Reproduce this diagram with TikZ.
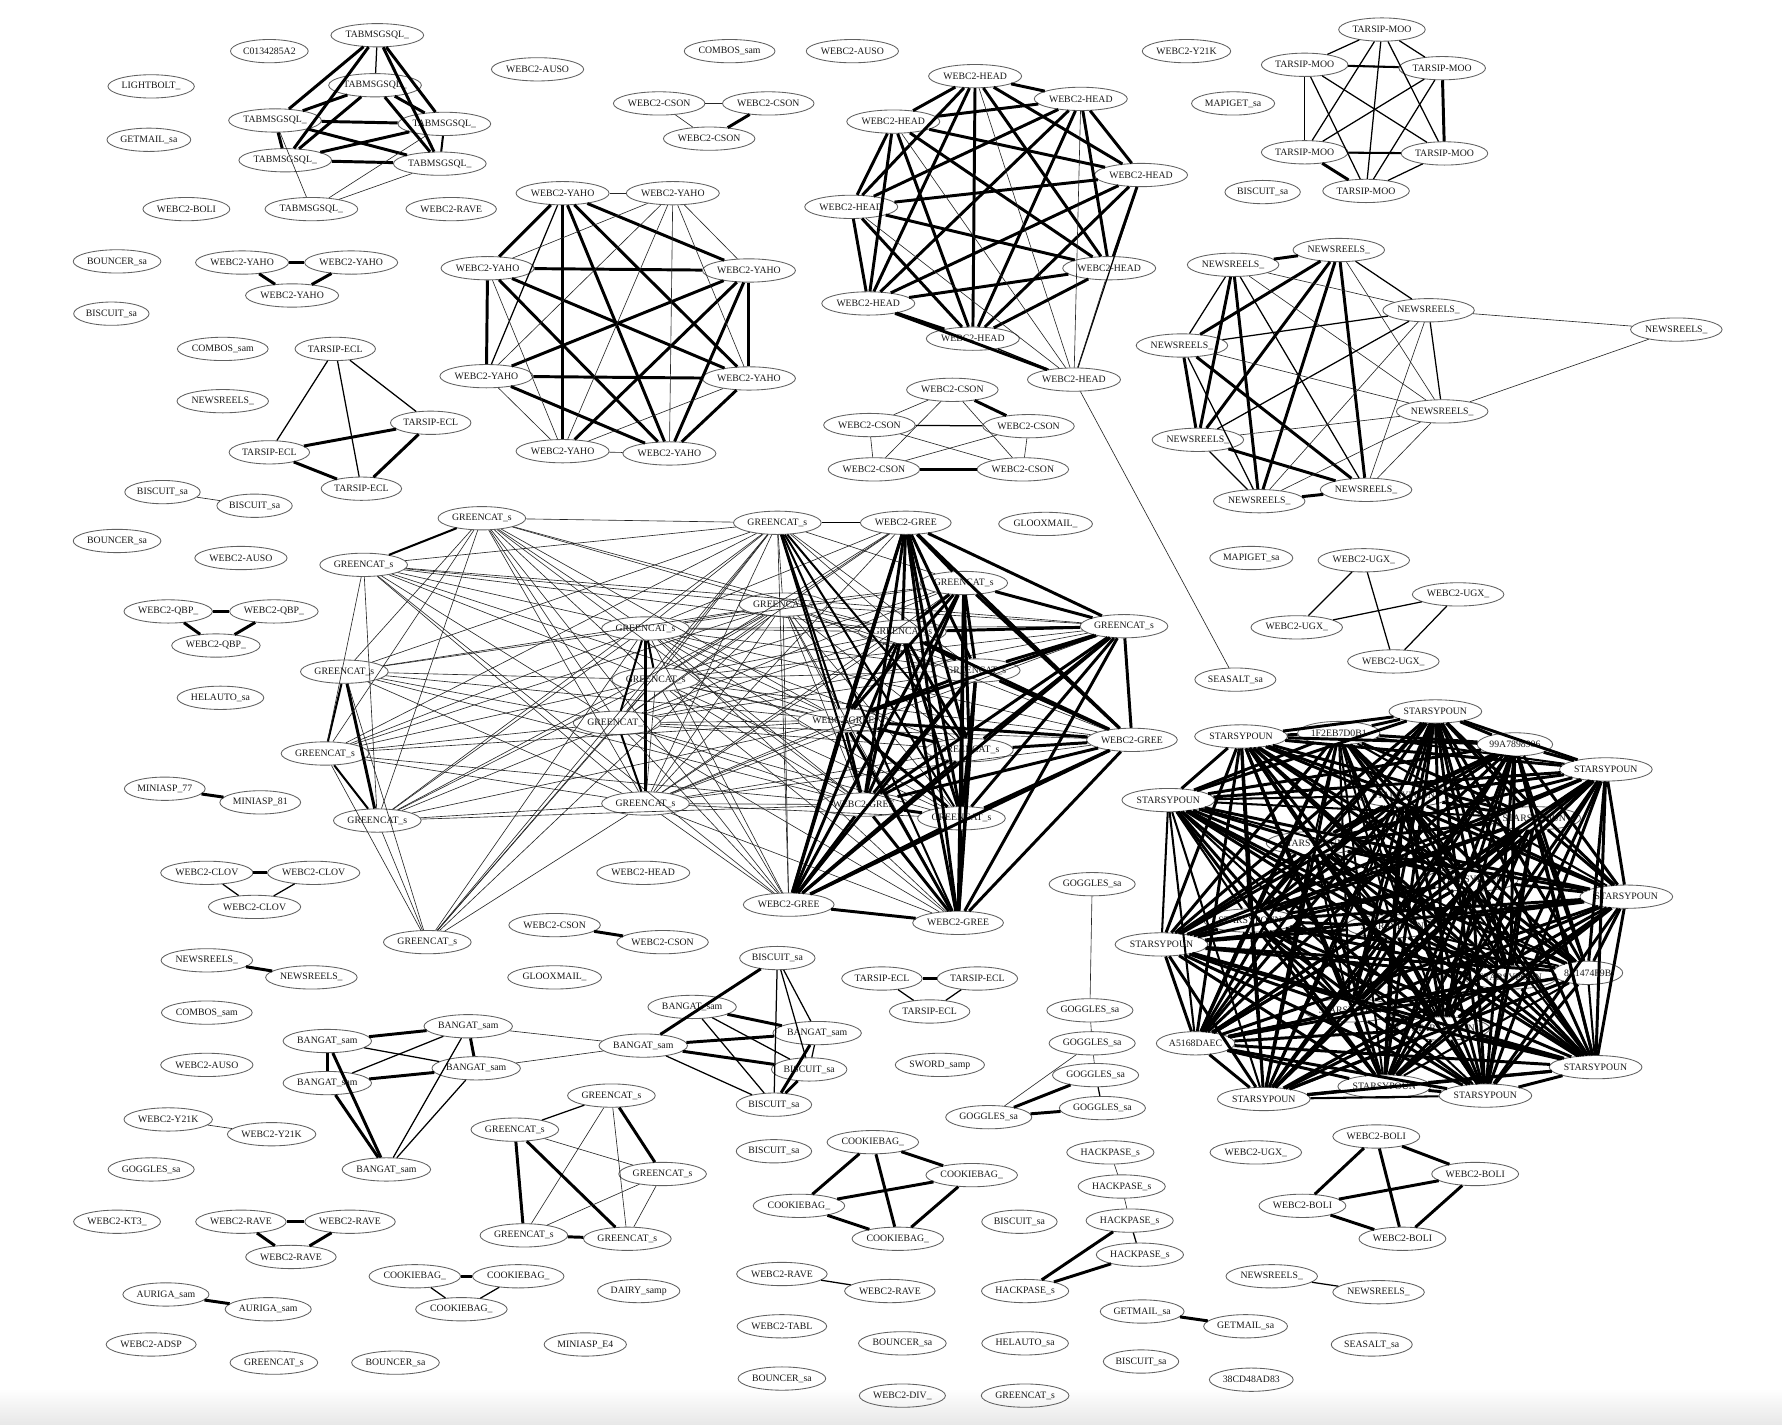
\documentclass[tikz,border=0pt]{standalone}
\usepackage{fontspec}
\setmainfont{Liberation Serif}
\usetikzlibrary{shapes.geometric}
\newcommand\completegraph[2]{%
  \foreach \ga [count=\gia] in {#2}{%
    \foreach \gb [count=\gib] in {#2}{%
      \ifnum\gia<\gib \draw[#1] (\ga) -- (\gb);\fi
    }%
  }%
}
\begin{document}
\begin{tikzpicture}[x=1pt,y=-1pt,
 nd/.style={ellipse,draw=black!62,line width=0.75pt,minimum height=20.5pt,inner xsep=1pt,inner ysep=0pt,font=\fontsize{8.6}{9}\selectfont,text=black!90},
 e0/.style={line width=0.55pt,draw=black!85},
 e1/.style={line width=1.1pt},
 e2/.style={line width=1.8pt},
 e3/.style={line width=2.6pt}]
\useasboundingbox (0,0) rectangle (1568,1253);
\fill[white] (0,0) rectangle (1568,1253);
\shade[top color=white,bottom color=black!9] (0,1222) rectangle (1568,1253);

% ---------- isolated nodes ----------
\node[nd] (i1) at (237,45) {C0134285A2};
\node[nd] (i2) at (642,45) {COMBOS\_sam};
\node[nd] (i3) at (750,45) {WEBC2-AUSO};
\node[nd] (i4) at (1044,45) {WEBC2-Y21K};
\node[nd] (i5) at (473,61) {WEBC2-AUSO};
\node[nd] (i6) at (133,76) {LIGHTBOLT\_};
\node[nd] (i7) at (1085,91) {MAPIGET\_sa};
\node[nd] (i8) at (131,123) {GETMAIL\_sa};
\node[nd] (i9) at (164,184) {WEBC2-BOLI};
\node[nd] (i10) at (397,184) {WEBC2-RAVE};
\node[nd] (i11) at (1111,169) {BISCUIT\_sa};
\node[nd] (i12) at (103,230) {BOUNCER\_sa};
\node[nd] (i13) at (98,276) {BISCUIT\_sa};
\node[nd] (i14) at (196,307) {COMBOS\_sam};
\node[nd] (i15) at (196,353) {NEWSREELS\_};
\node[nd] (i16) at (103,476) {BOUNCER\_sa};
\node[nd] (i17) at (212,491) {WEBC2-AUSO};
\node[nd] (i18) at (920,461) {GLOOXMAIL\_};
\node[nd] (i19) at (1101,491) {MAPIGET\_sa};
\node[nd] (i20) at (194,614) {HELAUTO\_sa};
\node[nd] (i21) at (566,768) {WEBC2-HEAD};
\node[nd] (i22) at (488,860) {GLOOXMAIL\_};
\node[nd] (i23) at (182,891) {COMBOS\_sam};
\node[nd] (i24) at (827,937) {SWORD\_samp};
\node[nd] (i25) at (182,937) {WEBC2-AUSO};
\node[nd] (i26) at (133,1029) {GOGGLES\_sa};
\node[nd] (i27) at (681,1013) {BISCUIT\_sa};
\node[nd] (i28) at (1105,1014) {WEBC2-UGX\_};
\node[nd] (i29) at (103,1075) {WEBC2-KT3\_};
\node[nd] (i30) at (897,1075) {BISCUIT\_sa};
\node[nd] (i31) at (562,1136) {DAIRY\_samp};
\node[nd] (i32) at (133,1183) {WEBC2-ADSP};
\node[nd] (i33) at (241,1199) {GREENCAT\_s};
\node[nd] (i34) at (348,1199) {BOUNCER\_sa};
\node[nd] (i35) at (515,1183) {MINIASP\_E4};
\node[nd] (i36) at (688,1167) {WEBC2-TABL};
\node[nd] (i37) at (794,1182) {BOUNCER\_sa};
\node[nd] (i38) at (902,1182) {HELAUTO\_sa};
\node[nd] (i39) at (1004,1198) {BISCUIT\_sa};
\node[nd] (i40) at (1101,1214) {38CD48AD83};
\node[nd] (i41) at (1207,1183) {SEASALT\_sa};
\node[nd] (i42) at (688,1213) {BOUNCER\_sa};
\node[nd] (i43) at (794,1228) {WEBC2-DIV\_};
\node[nd] (i44) at (902,1228) {GREENCAT\_s};
\node[nd] (i45) at (1087,598) {SEASALT\_sa};

% ---------- small groups ----------
\node[nd] (cs1) at (580,91) {WEBC2-CSON};
\node[nd] (cs2) at (676,91) {WEBC2-CSON};
\node[nd] (cs3) at (624,122) {WEBC2-CSON};
\node[nd] (ya1) at (213,231) {WEBC2-YAHO};
\node[nd] (ya2) at (309,231) {WEBC2-YAHO};
\node[nd] (ya3) at (257,260) {WEBC2-YAHO};
\node[nd] (bi1) at (143,433) {BISCUIT\_sa};
\node[nd] (bi2) at (224,445) {BISCUIT\_sa};
\node[nd] (qb1) at (148,538) {WEBC2-QBP\_};
\node[nd] (qb2) at (241,538) {WEBC2-QBP\_};
\node[nd] (qb3) at (190,568) {WEBC2-QBP\_};
\node[nd] (mi1) at (145,694) {MINIASP\_77};
\node[nd] (mi2) at (229,706) {MINIASP\_81};
\node[nd] (cl1) at (182,768) {WEBC2-CLOV};
\node[nd] (cl2) at (276,768) {WEBC2-CLOV};
\node[nd] (cl3) at (224,798) {WEBC2-CLOV};
\node[nd] (ns1) at (182,845) {NEWSREELS\_};
\node[nd] (ns2) at (274,860) {NEWSREELS\_};
\node[nd] (cn1) at (488,814) {WEBC2-CSON};
\node[nd] (cn2) at (583,829) {WEBC2-CSON};
\node[nd] (te1) at (776,861) {TARSIP-ECL};
\node[nd] (te2) at (860,861) {TARSIP-ECL};
\node[nd] (te3) at (818,890) {TARSIP-ECL};
\node[nd] (yk1) at (148,985) {WEBC2-Y21K};
\node[nd] (yk2) at (239,998) {WEBC2-Y21K};
\node[nd] (rv1) at (212,1075) {WEBC2-RAVE};
\node[nd] (rv2) at (308,1075) {WEBC2-RAVE};
\node[nd] (rv3) at (256,1106) {WEBC2-RAVE};
\node[nd] (au1) at (146,1139) {AURIGA\_sam};
\node[nd] (au2) at (236,1152) {AURIGA\_sam};
\node[nd] (cb1) at (365,1123) {COOKIEBAG\_};
\node[nd] (cb2) at (456,1123) {COOKIEBAG\_};
\node[nd] (cb3) at (406,1152) {COOKIEBAG\_};
\node[nd] (rw1) at (688,1121) {WEBC2-RAVE};
\node[nd] (rw2) at (783,1136) {WEBC2-RAVE};
\node[nd] (nw1) at (1119,1123) {NEWSREELS\_};
\node[nd] (nw2) at (1213,1137) {NEWSREELS\_};
\node[nd] (gm1) at (1005,1154) {GETMAIL\_sa};
\node[nd] (gm2) at (1096,1167) {GETMAIL\_sa};

\draw[e0] (cs1) -- (cs2); \draw[e3] (cs2) -- (cs3); \draw[e0] (cs1) -- (cs3);
\draw[e3] (ya1) -- (ya2); \draw[e3] (ya1) -- (ya3); \draw[e3] (ya2) -- (ya3);
\draw[e0] (bi1) -- (bi2);
\draw[e3] (qb1) -- (qb2); \draw[e3] (qb1) -- (qb3); \draw[e3] (qb2) -- (qb3);
\draw[e3] (mi1) -- (mi2);
\draw[e3] (cl1) -- (cl2); \draw[e1] (cl1) -- (cl3); \draw[e1] (cl2) -- (cl3);
\draw[e3] (ns1) -- (ns2);
\draw[e3] (cn1) -- (cn2);
\draw[e3] (te1) -- (te2); \draw[e1] (te1) -- (te3); \draw[e1] (te2) -- (te3);
\draw[e0] (yk1) -- (yk2);
\draw[e3] (rv1) -- (rv2); \draw[e3] (rv1) -- (rv3); \draw[e3] (rv2) -- (rv3);
\draw[e3] (au1) -- (au2);
\draw[e3] (cb1) -- (cb2); \draw[e1] (cb1) -- (cb3); \draw[e1] (cb2) -- (cb3);
\draw[e1] (rw1) -- (rw2);
\draw[e1] (nw1) -- (nw2);
\draw[e3] (gm1) -- (gm2);

% ---------- GOGGLES chain ----------
\node[nd] (go1) at (961,778) {GOGGLES\_sa};
\node[nd] (go2) at (959,889) {GOGGLES\_sa};
\node[nd] (go3) at (961,918) {GOGGLES\_sa};
\node[nd] (go4) at (964,946) {GOGGLES\_sa};
\node[nd] (go5) at (970,975) {GOGGLES\_sa};
\node[nd] (go6) at (870,983) {GOGGLES\_sa};
\draw[e0] (go1) -- (go2); \draw[e0] (go2) -- (go3); \draw[e0] (go3) -- (go4);
\draw[e0] (go3) -- (go6); \draw[e3] (go4) -- (go6); \draw[e1] (go4) -- (go5);
\draw[e3] (go6) -- (go5);

% ---------- HACKPASE ----------
\node[nd] (hp1) at (977,1014) {HACKPASE\_s};
\node[nd] (hp2) at (987,1044) {HACKPASE\_s};
\node[nd] (hp3) at (994,1074) {HACKPASE\_s};
\node[nd] (hp4) at (1003,1104) {HACKPASE\_s};
\node[nd] (hp5) at (902,1136) {HACKPASE\_s};
\draw[e0] (hp1) -- (hp2); \draw[e0] (hp2) -- (hp3); \draw[e1] (hp3) -- (hp4);
\draw[e3] (hp3) -- (hp5); \draw[e3] (hp4) -- (hp5);

% ---------- COOKIEBAG 4 ----------
\node[nd] (k1) at (768,1005) {COOKIEBAG\_};
\node[nd] (k2) at (855,1034) {COOKIEBAG\_};
\node[nd] (k3) at (703,1061) {COOKIEBAG\_};
\node[nd] (k4) at (790,1090) {COOKIEBAG\_};
\completegraph{e3}{k1,k2,k3,k4}

% ---------- WEBC2-BOLI 4 ----------
\node[nd] (b1) at (1211,1000) {WEBC2-BOLI};
\node[nd] (b2) at (1298,1033) {WEBC2-BOLI};
\node[nd] (b3) at (1146,1061) {WEBC2-BOLI};
\node[nd] (b4) at (1234,1090) {WEBC2-BOLI};
\completegraph{e3}{b1,b2,b3,b4}

% ---------- WEBC2-UGX 4 ----------
\node[nd] (u1) at (1200,493) {WEBC2-UGX\_};
\node[nd] (u2) at (1283,523) {WEBC2-UGX\_};
\node[nd] (u3) at (1141,552) {WEBC2-UGX\_};
\node[nd] (u4) at (1226,582) {WEBC2-UGX\_};
\draw[e1] (u1) -- (u3); \draw[e1] (u1) -- (u4); \draw[e1] (u2) -- (u3); \draw[e1] (u2) -- (u4);

% ---------- GREENCAT 5 ----------
\node[nd] (p1) at (538,964) {GREENCAT\_s};
\node[nd] (p2) at (453,994) {GREENCAT\_s};
\node[nd] (p3) at (583,1033) {GREENCAT\_s};
\node[nd] (p4) at (461,1087) {GREENCAT\_s};
\node[nd] (p5) at (552,1090) {GREENCAT\_s};
\draw[e1] (p1) -- (p2); \draw[e3] (p1) -- (p3); \draw[e0] (p1) -- (p4); \draw[e0] (p1) -- (p5);
\draw[e0] (p2) -- (p3); \draw[e3] (p2) -- (p4); \draw[e3] (p2) -- (p5);
\draw[e0] (p3) -- (p4); \draw[e0] (p3) -- (p5); \draw[e3] (p4) -- (p5);

% ---------- BANGAT ----------
\node[nd] (q1) at (288,916) {BANGAT\_sam};
\node[nd] (q2) at (412,903) {BANGAT\_sam};
\node[nd] (q3) at (419,940) {BANGAT\_sam};
\node[nd] (q4) at (288,953) {BANGAT\_sam};
\node[nd] (q5) at (340,1029) {BANGAT\_sam};
\node[nd] (r1) at (566,920) {BANGAT\_sam};
\node[nd] (r2) at (609,886) {BANGAT\_sam};
\node[nd] (r3) at (719,909) {BANGAT\_sam};
\node[nd] (r4) at (684,843) {BISCUIT\_sa};
\node[nd] (r5) at (712,941) {BISCUIT\_sa};
\node[nd] (r6) at (681,972) {BISCUIT\_sa};
\draw[e3] (q1) -- (q2); \draw[e1] (q1) -- (q3); \draw[e3] (q1) -- (q4); \draw[e3] (q1) -- (q5);
\draw[e1] (q2) -- (q4); \draw[e3] (q2) -- (q3); \draw[e1] (q2) -- (q5);
\draw[e3] (q3) -- (q4); \draw[e1] (q3) -- (q5); \draw[e3] (q4) -- (q5);
\draw[e0] (q2) -- (r1); \draw[e0] (q3) -- (r1);
\draw[e3] (r4) -- (r1); \draw[e1] (r4) -- (r6); \draw[e1] (r4) -- (r5); \draw[e1] (r4) -- (r3);
\draw[e3] (r2) -- (r3); \draw[e1] (r2) -- (r5); \draw[e1] (r2) -- (r6);
\draw[e3] (r1) -- (r3); \draw[e3] (r1) -- (r5); \draw[e1] (r1) -- (r6);
\draw[e3] (r3) -- (r6); \draw[e3] (r5) -- (r6); \draw[e1] (r3) -- (r5);

% ---------- TABMSGSQL ----------
\node[nd] (a1) at (332,31) {TABMSGSQL\_};
\node[nd] (a2) at (330,75) {TABMSGSQL\_};
\node[nd] (a3) at (242,106) {TABMSGSQL\_};
\node[nd] (a4) at (391,109) {TABMSGSQL\_};
\node[nd] (a5) at (251,141) {TABMSGSQL\_};
\node[nd] (a6) at (387,144) {TABMSGSQL\_};
\node[nd] (a7) at (274,184) {TABMSGSQL\_};
\draw[e3] (a1) -- (a3); \draw[e3] (a1) -- (a5); \draw[e1] (a1) -- (a2); \draw[e3] (a1) -- (a4);
\draw[e3] (a1) -- (a6); \draw[e3] (a2) -- (a3); \draw[e3] (a2) -- (a5); \draw[e3] (a2) -- (a6);
\draw[e3] (a2) -- (a4); \draw[e3] (a3) -- (a4); \draw[e3] (a3) -- (a6); \draw[e3] (a3) -- (a5);
\draw[e0] (a3) -- (a7); \draw[e3] (a5) -- (a4); \draw[e3] (a5) -- (a6); \draw[e2] (a4) -- (a6);
\draw[e0] (a4) -- (a7); \draw[e0] (a6) -- (a7);

% ---------- TARSIP-ECL 4 ----------
\node[nd] (t1) at (295,307) {TARSIP-ECL};
\node[nd] (t2) at (379,372) {TARSIP-ECL};
\node[nd] (t3) at (237,398) {TARSIP-ECL};
\node[nd] (t4) at (318,430) {TARSIP-ECL};
\draw[e1] (t1) -- (t3); \draw[e1] (t1) -- (t4); \draw[e1] (t1) -- (t2);
\draw[e3] (t2) -- (t3); \draw[e3] (t3) -- (t4); \draw[e3] (t2) -- (t4);

% ---------- TARSIP-MOO ----------
\node[nd] (m1) at (1216,26) {TARSIP-MOO};
\node[nd] (m2) at (1148,57) {TARSIP-MOO};
\node[nd] (m3) at (1269,60) {TARSIP-MOO};
\node[nd] (m4) at (1148,134) {TARSIP-MOO};
\node[nd] (m5) at (1271,135) {TARSIP-MOO};
\node[nd] (m6) at (1202,168) {TARSIP-MOO};
\completegraph{e1}{m1,m2,m3,m4,m5,m6}
\draw[e3] (m3) -- (m5); \draw[e3] (m4) -- (m6); \draw[e2] (m2) -- (m3); \draw[e2] (m4) -- (m5);

% ---------- WEBC2-HEAD ----------
\node[nd] (h1) at (858,67) {WEBC2-HEAD};
\node[nd] (h2) at (951,87) {WEBC2-HEAD};
\node[nd] (h3) at (786,107) {WEBC2-HEAD};
\node[nd] (h4) at (1004,154) {WEBC2-HEAD};
\node[nd] (h5) at (749,182) {WEBC2-HEAD};
\node[nd] (h6) at (976,236) {WEBC2-HEAD};
\node[nd] (h7) at (764,267) {WEBC2-HEAD};
\node[nd] (h8) at (856,298) {WEBC2-HEAD};
\node[nd] (h9) at (945,334) {WEBC2-HEAD};
\completegraph{e3}{h1,h2,h3,h4,h5,h6,h7,h8}
\draw[e0] (h9) -- (h1); \draw[e0] (h9) -- (h2); \draw[e0] (h9) -- (h3); \draw[e1] (h9) -- (h4);
\draw[e0] (h9) -- (h5); \draw[e0] (h9) -- (h6); \draw[e3] (h9) -- (h7); \draw[e1] (h9) -- (h8);
\draw[e0] (h9) -- (i45);

% ---------- WEBC2-CSON 5 ----------
\node[nd] (c1) at (838,343) {WEBC2-CSON};
\node[nd] (c2) at (765,374) {WEBC2-CSON};
\node[nd] (c3) at (905,375) {WEBC2-CSON};
\node[nd] (c4) at (769,413) {WEBC2-CSON};
\node[nd] (c5) at (900,413) {WEBC2-CSON};
\draw[e0] (c1) -- (c2); \draw[e3] (c1) -- (c3); \draw[e0] (c1) -- (c4); \draw[e0] (c1) -- (c5);
\draw[e1] (c2) -- (c3); \draw[e0] (c2) -- (c4); \draw[e0] (c2) -- (c5);
\draw[e0] (c3) -- (c4); \draw[e0] (c3) -- (c5); \draw[e3] (c4) -- (c5);

% ---------- WEBC2-YAHO 8 ----------
\node[nd] (y1) at (495,170) {WEBC2-YAHO};
\node[nd] (y2) at (592,170) {WEBC2-YAHO};
\node[nd] (y3) at (429,236) {WEBC2-YAHO};
\node[nd] (y4) at (659,238) {WEBC2-YAHO};
\node[nd] (y5) at (428,331) {WEBC2-YAHO};
\node[nd] (y6) at (659,333) {WEBC2-YAHO};
\node[nd] (y7) at (495,397) {WEBC2-YAHO};
\node[nd] (y8) at (589,399) {WEBC2-YAHO};
\foreach \a/\b in {y1/y3,y1/y7,y1/y4,y1/y6,y1/y8,y3/y4,y3/y5,y3/y6,y3/y8,y4/y5,y4/y6,y4/y7,y4/y8,y5/y6,y5/y8,y6/y8}
  \draw[e3] (\a) -- (\b);
\draw[e1] (y1) -- (y5);
\foreach \a/\b in {y1/y2,y2/y3,y2/y4,y2/y5,y2/y6,y2/y7,y2/y8,y3/y7,y5/y7,y6/y7,y7/y8}
  \draw[e0] (\a) -- (\b);

% ---------- NEWSREELS 9 ----------
\node[nd] (n1) at (1085,233) {NEWSREELS\_};
\node[nd] (n2) at (1178,220) {NEWSREELS\_};
\node[nd] (n3) at (1257,273) {NEWSREELS\_};
\node[nd] (n4) at (1475,290) {NEWSREELS\_};
\node[nd] (n5) at (1040,304) {NEWSREELS\_};
\node[nd] (n6) at (1269,362) {NEWSREELS\_};
\node[nd] (n7) at (1054,387) {NEWSREELS\_};
\node[nd] (n8) at (1108,441) {NEWSREELS\_};
\node[nd] (n9) at (1202,431) {NEWSREELS\_};
\foreach \a/\b in {n1/n2,n1/n7,n1/n8,n2/n5,n2/n7,n2/n8,n2/n9,n5/n7,n5/n9,n7/n9,n8/n9}
  \draw[e3] (\a) -- (\b);
\foreach \a/\b in {n1/n5,n1/n9,n2/n3,n3/n5,n3/n6,n3/n7,n5/n8,n7/n8}
  \draw[e1] (\a) -- (\b);
\foreach \a/\b in {n1/n3,n1/n6,n2/n6,n3/n8,n3/n9,n5/n6,n6/n7,n6/n8,n6/n9,n3/n4,n6/n4}
  \draw[e0] (\a) -- (\b);

% ---------- GREENCAT / WEBC2-GREE big cluster ----------
\node[nd] (g1) at (424,456) {GREENCAT\_s};
\node[nd] (g2) at (320,497) {GREENCAT\_s};
\node[nd] (g8) at (303,591) {GREENCAT\_s};
\node[nd] (g9) at (286,663) {GREENCAT\_s};
\node[nd] (g11) at (332,722) {GREENCAT\_s};
\node[nd] (g12) at (376,829) {GREENCAT\_s};
\node[nd] (g3) at (684,460) {GREENCAT\_s};
\node[nd] (g4) at (689,532) {GREENCAT\_s};
\node[nd] (g6) at (568,553) {GREENCAT\_s};
\node[nd] (x1) at (577,598) {GREENCAT\_s};
\node[nd] (x2) at (543,636) {GREENCAT\_s};
\node[nd] (g10) at (568,707) {GREENCAT\_s};
\node[nd] (w1) at (797,460) {WEBC2-GREE};
\node[nd] (g5) at (848,513) {GREENCAT\_s};
\node[nd] (hc) at (794,556) {GREENCAT\_s};
\node[nd] (g7) at (989,551) {GREENCAT\_s};
\node[nd] (x4) at (859,590) {GREENCAT\_s};
\node[nd] (x5) at (742,634) {WEBC2-GREE};
\node[nd] (x6) at (853,660) {GREENCAT\_s};
\node[nd] (w2) at (996,651) {WEBC2-GREE};
\node[nd] (x7) at (760,708) {WEBC2-GREE};
\node[nd] (x8) at (846,720) {GREENCAT\_s};
\node[nd] (w3) at (694,796) {WEBC2-GREE};
\node[nd] (w4) at (843,812) {WEBC2-GREE};

\draw[e2] (g1) -- (g2);
\draw[e2] (g8) -- (g9); \draw[e3] (g8) -- (g11); \draw[e2] (g9) -- (g11);
\foreach \a/\b in {g1/g8,g1/g9,g1/g11,g2/g9,g2/g11,g9/g12,g11/g12,g8/g12}
  \draw[e0] (\a) -- (\b);
\foreach \a in {g1,g2,g8,g9,g11,g12}{
  \foreach \b in {g3,g4,g6,x1,x2,g10}{\draw[e0] (\a) -- (\b);}
}
\foreach \a/\b in {g1/w3,g1/hc,g1/x5,g1/x7,g2/w3,g2/x5,g2/hc,g2/g7,g8/x5,g8/x7,g9/x7,g9/x5,g11/x5,g11/x7}
  \draw[e0] (\a) -- (\b);
\completegraph{e0}{g3,g4,g6,x1,x2,g10}
\draw[e3] (g6) -- (g10); \draw[e2] (g6) -- (x2); \draw[e2] (g6) -- (x1);
\draw[e2] (x2) -- (g10);
\foreach \a in {g4,g6,x1,x2,g10}{
  \foreach \b in {w1,g5,hc,g7,x4,x5,x6,w2,x7,x8,w3,w4}{\draw[e0] (\a) -- (\b);}
}
\draw[e1] (g3) -- (w1);
\foreach \b in {x5,x7,w4,x6,x8} \draw[e2] (g3) -- (\b);
\foreach \b in {g5,hc,x4,w3} \draw[e0] (g3) -- (\b);
\completegraph{e3}{w1,g5,hc,g7,x4,x5,x6,w2,x7,x8,w3,w4}

% ---------- STARSYPOUN cluster ----------
\node[nd] (s1) at (1263,626) {STARSYPOUN};
\node[nd] (s2) at (1092,648) {STARSYPOUN};
\node[nd] (s3) at (1178,645) {1F2EB7D0B1};
\node[nd] (s4) at (1333,655) {99A7898906};
\node[nd] (s5) at (1413,677) {STARSYPOUN};
\node[nd] (s6) at (1028,704) {STARSYPOUN};
\node[nd] (s7) at (1431,789) {STARSYPOUN};
\node[nd] (s8) at (1022,831) {STARSYPOUN};
\node[nd] (s9) at (1397,856) {8E1474F9B};
\node[nd] (s10) at (1052,918) {A5168DAEC};
\node[nd] (s11) at (1404,939) {STARSYPOUN};
\node[nd] (s12) at (1112,967) {STARSYPOUN};
\node[nd] (s13) at (1218,956) {STARSYPOUN};
\node[nd] (s14) at (1307,964) {STARSYPOUN};
\node[nd] (s15) at (1155,742) {STARSYPOUN};
\node[nd] (s16) at (1100,810) {STARSYPOUN};
\node[nd] (s17) at (1188,889) {STARSYPOUN};
\node[nd] (s18) at (1295,774) {STARSYPOUN};
\node[nd] (s19) at (1329,860) {STARSYPOUN};
\node[nd] (s20) at (1235,700) {STARSYPOUN};
\node[nd] (s21) at (1225,815) {STARSYPOUN};
\node[nd] (s22) at (1350,720) {STARSYPOUN};
\node[nd] (s23) at (1270,905) {STARSYPOUN};
\foreach \i in {1,...,23}{
  \foreach \j in {1,...,23}{
    \ifnum\i<\j
      \pgfmathtruncatemacro\kk{mod(\i*5+\j*3,6)}
      \ifnum\kk=0 \draw[e2] (s\i) -- (s\j);\else \draw[e3] (s\i) -- (s\j);\fi
    \fi
  }
}
\end{tikzpicture}
\end{document}
